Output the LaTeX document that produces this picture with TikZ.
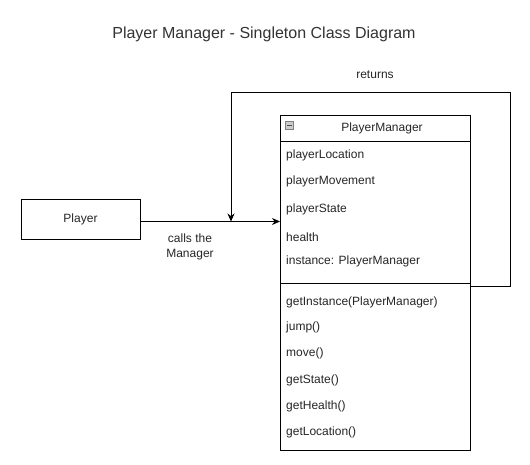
\documentclass[tikz,border=0pt]{standalone}
\usepackage{fontspec}
\setmainfont{Liberation Sans}
\usetikzlibrary{arrows.meta}
\begin{document}
\begin{tikzpicture}[x=1pt,y=-1pt,
  txt/.style={font=\fontsize{12}{14}\selectfont, text=black!85, inner sep=0pt},
  attr/.style={txt, anchor=west},
  boxed/.style={draw=black, line width=0.8pt, rectangle, inner sep=0pt},
  conn/.style={draw=black, line width=0.8pt},
  tip/.style={-{Stealth[length=8pt,width=7pt]}}
]
\useasboundingbox (0,0) rectangle (530,465);
\fill[white] (0,0) rectangle (530,465);

\node[txt, font=\fontsize{16}{18}\selectfont, text=black!80] (title) at (264,34) {Player Manager - Singleton Class Diagram};

\node[boxed, minimum width=119pt, minimum height=40pt, txt] (player) at (80.5,219.5) {Player};

\node[boxed, minimum width=190pt, minimum height=335pt] (pm) at (375,282.5) {};
\coordinate (hl) at (280,141);
\coordinate (hr) at (470,141);
\coordinate (sl) at (280,283);
\coordinate (sr) at (470,283);
\draw[conn] (hl) -- (hr);
\draw[conn] (sl) -- (sr);
\node[txt] (pmname) at (382,128) {PlayerManager};
\node[draw=black!50, fill=black!20, minimum width=8pt, minimum height=8pt, inner sep=0pt] (icon) at (289.5,125) {};
\draw[black!70, line width=0.8pt] ([xshift=-2.5pt]icon.center) -- ([xshift=2.5pt]icon.center);

\node[attr] (a1) at (286,155) {playerLocation};
\node[attr] (a2) at (286,181) {playerMovement};
\node[attr] (a3) at (286,209) {playerState};
\node[attr] (a4) at (286,237) {health};
\node[attr] (a5) at (286,261) {instance: PlayerManager};

\node[attr] (m1) at (286,302) {getInstance(PlayerManager)};
\node[attr] (m2) at (286,327) {jump()};
\node[attr] (m3) at (286,353) {move()};
\node[attr] (m4) at (286,380) {getState()};
\node[attr] (m5) at (286,406) {getHealth()};
\node[attr] (m6) at (286,432) {getLocation()};

\coordinate (cin) at (280,221.5);
\draw[conn, tip] ([yshift=-2pt]player.east) -- (cin);
\node[txt, align=center, font=\fontsize{12}{15}\selectfont] (calls) at (190,246.5) {calls the\\Manager};

\coordinate (rs) at (470,286);
\coordinate (rend) at (231,221.5);
\draw[conn, tip] (rs) -- (510,286) -- (510,92) -- (231,92) -- (rend);
\node[txt] (ret) at (375,75) {returns};
\end{tikzpicture}
\end{document}
